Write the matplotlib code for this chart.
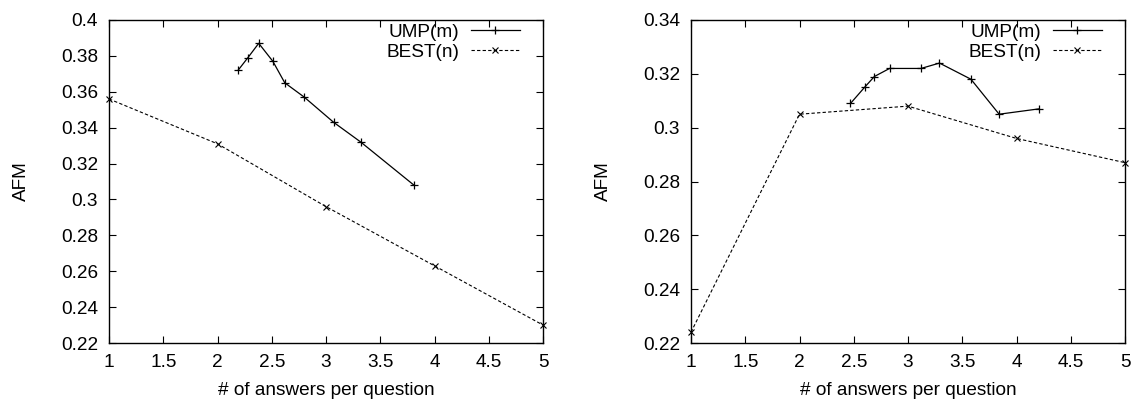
import matplotlib
matplotlib.use("Agg")
import matplotlib.pyplot as plt
from matplotlib.ticker import FuncFormatter

# left panel
left_ump_x = [2.19, 2.28, 2.38, 2.51, 2.62, 2.80, 3.07, 3.32, 3.81]
left_ump_y = [0.372, 0.379, 0.387, 0.377, 0.365, 0.357, 0.343, 0.332, 0.308]
left_best_x = [1, 2, 3, 4, 5]
left_best_y = [0.356, 0.331, 0.296, 0.263, 0.230]

# right panel
right_ump_x = [2.47, 2.60, 2.69, 2.83, 3.12, 3.29, 3.58, 3.84, 4.21]
right_ump_y = [0.309, 0.315, 0.319, 0.322, 0.322, 0.324, 0.318, 0.305, 0.307]
right_best_x = [1, 2, 3, 4, 5]
right_best_y = [0.224, 0.305, 0.308, 0.296, 0.287]

x_ticks = [1, 1.5, 2, 2.5, 3, 3.5, 4, 4.5, 5]
left_y_ticks = [0.22, 0.24, 0.26, 0.28, 0.30, 0.32, 0.34, 0.36, 0.38, 0.40]
right_y_ticks = [0.22, 0.24, 0.26, 0.28, 0.30, 0.32, 0.34]

plt.rcParams["font.family"] = ["Liberation Sans", "DejaVu Sans"]
FS = 13.7

fig = plt.figure(figsize=(11.34, 3.99), dpi=100)
W, H = 1134, 399
fmt = FuncFormatter(lambda v, _: "%g" % round(v, 4))

panels = [
    (109, left_ump_x, left_ump_y, left_best_x, left_best_y, left_y_ticks),
    (691, right_ump_x, right_ump_y, right_best_x, right_best_y, right_y_ticks),
]

for x0, ux, uy, bx, by, yt in panels:
    ax = fig.add_axes([x0 / W, (H - 343) / H, 434 / W, 323 / H])
    ax.plot(ux, uy, color="black", lw=0.9, marker="+", ms=6, mew=0.9,
            label="UMP(m)", clip_on=False)
    ax.plot(bx, by, color="black", lw=0.8, ls=(0, (3, 2)), marker="x",
            ms=4.5, mew=0.8, label="BEST(n)", clip_on=False)
    ax.set_xlim(1, 5)
    ax.set_ylim(yt[0], yt[-1])
    ax.set_xticks(x_ticks)
    ax.set_yticks(yt)
    ax.xaxis.set_major_formatter(fmt)
    ax.yaxis.set_major_formatter(fmt)
    ax.tick_params(direction="in", length=5, width=0.8, top=True, right=True,
                   labelsize=FS, pad=8)
    for sp in ax.spines.values():
        sp.set_linewidth(1.0)
    ax.set_xlabel("# of answers per question", fontsize=FS, labelpad=8)
    ax.set_ylabel("AFM", fontsize=FS, labelpad=22)
    ax.legend(loc="upper right", bbox_to_anchor=(0.947, 0.99), frameon=False,
              markerfirst=False, fontsize=FS, borderpad=0, borderaxespad=0,
              handlelength=2.6, handletextpad=0.6, labelspacing=0.15)

plt.savefig("out.png", dpi=100)
plt.close(fig)
